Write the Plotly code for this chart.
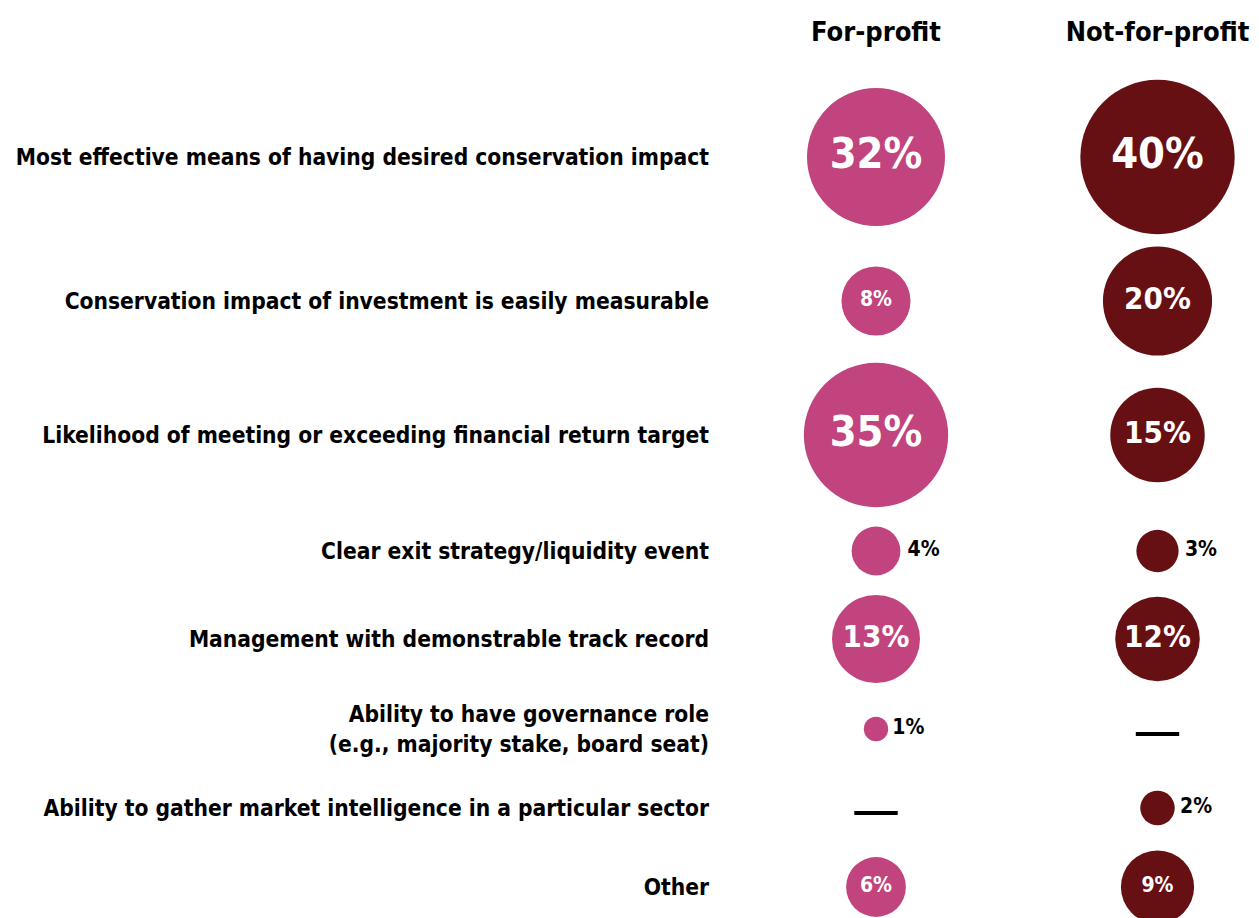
import math
import plotly.graph_objects as go

# Survey categories (row labels) and the share of respondents per investor type
categories = [
    "Most effective means of having desired conservation impact",
    "Conservation impact of investment is easily measurable",
    "Likelihood of meeting or exceeding financial return target",
    "Clear exit strategy/liquidity event",
    "Management with demonstrable track record",
    "Ability to have governance role<br>(e.g., majority stake, board seat)",
    "Ability to gather market intelligence in a particular sector",
    "Other",
]
groups = ["For-profit", "Not-for-profit"]
for_profit = [32, 8, 35, 4, 13, 1, None, 6]
not_for_profit = [40, 20, 15, 3, 12, None, 2, 9]

# Layout: vertical centre of each row (axis units are pixels)
ROW_Y = [157, 301, 435, 551, 639, 729, 808, 887]

FONT = "DejaVu Sans Condensed, Liberation Sans Narrow, sans-serif"
COLORS = {"For-profit": "#C1447E", "Not-for-profit": "#661014"}
K = 24.4  # bubble diameter in px per sqrt(percent) -> area proportional to value

fig = go.Figure()


def label_size(v):
    if v >= 30:
        return 43
    if v >= 10:
        return 31
    return 21


for name, values in zip(groups, [for_profit, not_for_profit]):
    xs, ys, sizes, texts, pos, tcol, tsize = [], [], [], [], [], [], []
    dash_y = []
    for v, y in zip(values, ROW_Y):
        if v is None:
            dash_y.append(y)
            continue
        xs.append(name)
        ys.append(y)
        sizes.append(K * math.sqrt(v))
        texts.append(f"{v}%")
        inside = v >= 5
        pos.append("middle center" if inside else "middle right")
        tcol.append("white" if inside else "black")
        tsize.append(label_size(v))
    fig.add_trace(go.Scatter(
        x=xs, y=ys, mode="markers+text", text=texts,
        textposition=pos,
        textfont=dict(family=FONT, size=tsize, color=tcol, weight="bold"),
        marker=dict(size=sizes, color=COLORS[name], line=dict(width=0), opacity=1),
        cliponaxis=False, showlegend=False, hoverinfo="skip",
    ))
    if dash_y:
        # no response recorded: draw a dash
        fig.add_trace(go.Scatter(
            x=[name] * len(dash_y), y=[y + 5 for y in dash_y], mode="markers",
            marker=dict(symbol="line-ew", size=31, line=dict(width=4, color="black")),
            cliponaxis=False, showlegend=False, hoverinfo="skip",
        ))

W, H = 1259, 918
L, T = 714, 70
unit = 281.5
x0_px = 876
xa = -(x0_px - L) / unit
xb = xa + (W - L) / unit

fig.update_layout(
    width=W, height=H,
    margin=dict(l=L, r=0, t=T, b=0, autoexpand=False),
    paper_bgcolor="white", plot_bgcolor="white",
    xaxis=dict(
        type="category", categoryorder="array", categoryarray=groups,
        range=[xa, xb], side="top", showgrid=False, zeroline=False,
        showline=False, ticks="", automargin=False,
        tickfont=dict(family=FONT, size=27, color="black", weight="bold"),
        ticklabelstandoff=23,
    ),
    yaxis=dict(
        range=[H, T], autorange=False, showgrid=False, zeroline=False,
        showline=False, ticks="", automargin=False,
        tickvals=ROW_Y, ticktext=categories,
        tickfont=dict(family=FONT, size=22.6, color="black", weight="bold"),
        ticklabelstandoff=4,
    ),
)

fig.write_html("out.html")
